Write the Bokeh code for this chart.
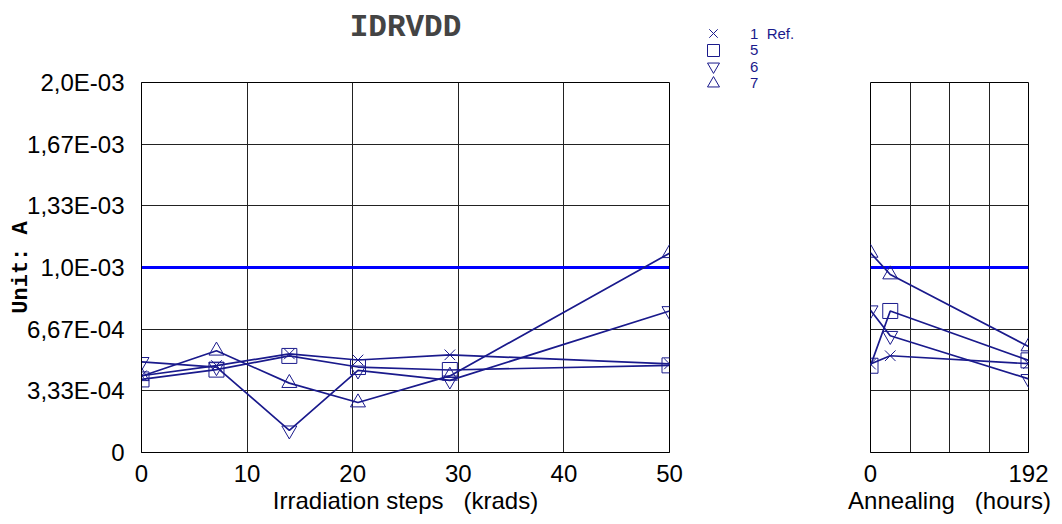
from bokeh.plotting import figure
from bokeh.layouts import row, column
from bokeh.models import FixedTicker, Legend, LegendItem, Spacer
from bokeh.embed import file_html
from bokeh.resources import INLINE

# ---------------- data ----------------
irr_x = [0, 7.1, 14, 20.5, 29.2, 50]          # krads
ann_x = [0, 24, 192]                           # hours

names = ["1  Ref.", "5", "6", "7"]
markers = ["x", "square", "inverted_triangle", "triangle"]

irr_s1 = [4.15e-4, 4.70e-4, 5.33e-4, 5.00e-4, 5.28e-4, 4.79e-4]
irr_s5 = [3.95e-4, 4.48e-4, 5.22e-4, 4.62e-4, 4.46e-4, 4.71e-4]
irr_s6 = [4.90e-4, 4.62e-4, 1.20e-4, 4.44e-4, 3.90e-4, 7.65e-4]
irr_s7 = [4.12e-4, 5.50e-4, 3.75e-4, 2.70e-4, 4.14e-4, 1.077e-3]

ann_s1 = [4.78e-4, 5.23e-4, 4.80e-4]
ann_s5 = [4.69e-4, 7.65e-4, 4.98e-4]
ann_s6 = [7.69e-4, 6.31e-4, 3.98e-4]
ann_s7 = [1.079e-3, 9.62e-4, 5.73e-4]

limit = 1.0e-3

y_ticks = [0, 3.333e-4, 6.667e-4, 1.0e-3, 1.333e-3, 1.667e-3, 2.0e-3]
y_tick_labels = ["0", "3,33E-04", "6,67E-04", "1,0E-03", "1,33E-03", "1,67E-03", "2,0E-03"]
irr_ticks = [0, 10, 20, 30, 40, 50]
ann_grid = [0, 48, 96, 144, 192]
ann_ticks = [0, 192]

irr_series = [irr_s1, irr_s5, irr_s6, irr_s7]
ann_series = [ann_s1, ann_s5, ann_s6, ann_s7]

# ---------------- style ----------------
NAVY = "#1a1a8c"
TICK_FONT = "Liberation Sans"
FS = "24px"
NB = "\u00a0"


def style(p):
    p.outline_line_color = "#000000"
    p.outline_line_width = 1
    for ax in (p.xaxis[0], p.yaxis[0]):
        ax.major_tick_line_color = None
        ax.minor_tick_line_color = None
        ax.axis_line_color = "#000000"
        ax.major_label_text_font = TICK_FONT
        ax.major_label_text_font_size = FS
        ax.major_label_text_color = "#000000"
        ax.axis_label_text_font = TICK_FONT
        ax.axis_label_text_font_size = FS
        ax.axis_label_text_font_style = "normal"
        ax.axis_label_text_color = "#000000"
    p.xaxis.major_label_standoff = 6
    p.yaxis.major_label_standoff = 11
    p.xaxis.axis_label_standoff = 2
    p.grid.grid_line_color = "#222222"
    p.grid.grid_line_width = 1
    p.background_fill_color = "white"
    p.border_fill_color = "white"


H = 516

# ---------------- left panel ----------------
p1 = figure(width=683, height=H, x_range=(0, 50), y_range=(0, 2.0e-3),
            output_backend="svg", toolbar_location=None,
            min_border_left=141, min_border_right=14,
            min_border_top=82, min_border_bottom=62,
            title="IDRVDD\n" + NB)
p1.title.align = "center"
p1.title.text_font = "Liberation Mono"
p1.title.text_font_style = "bold"
p1.title.text_font_size = "31px"
p1.title.standoff = 6
style(p1)
p1.xaxis.ticker = FixedTicker(ticks=irr_ticks)
p1.yaxis.ticker = FixedTicker(ticks=y_ticks)
p1.yaxis.major_label_overrides = {t: l for t, l in zip(y_ticks, y_tick_labels)}
p1.xaxis.axis_label = "Irradiation steps" + NB * 3 + "(krads)"
p1.yaxis.axis_label = "Unit: A"
p1.yaxis.axis_label_text_font = "Liberation Mono"
p1.yaxis.axis_label_text_font_style = "bold"
p1.yaxis.axis_label_text_font_size = "22px"
p1.yaxis.axis_label_standoff = -10

p1.line([irr_x[0], irr_x[-1]], [limit, limit], line_color="#0000ff", line_width=3)

for mk, ys in zip(markers, irr_series):
    p1.line(irr_x, ys, line_color=NAVY, line_width=1.7)
    p1.scatter(irr_x, ys, marker=mk, size=15, line_color=NAVY,
               fill_color=None, line_width=1)

# ---------------- legend holder (short figure at the top) ----------------
LW = 146
LH = 100
pl = figure(width=LW, height=LH, x_range=(0, 1), y_range=(0, 1),
            output_backend="svg", toolbar_location=None, title=None,
            min_border_left=0, min_border_right=0,
            min_border_top=0, min_border_bottom=0)
pl.axis.visible = False
pl.grid.visible = False
pl.outline_line_color = None
pl.background_fill_alpha = 0
pl.border_fill_alpha = 0
ROW_PITCH = 16.6
FIRST_CENTER = 33
GLYPH = 30
for i, (name, mk) in enumerate(zip(names, markers)):
    # legend swatch only: one point kept outside the visible range
    r = pl.scatter([-5], [-5], marker=mk, size=12, line_color=NAVY,
                   fill_color=None, line_width=1)
    center = FIRST_CENTER + i * ROW_PITCH
    bottom_from_bottom = LH - (center + GLYPH / 2)
    lg = Legend(items=[LegendItem(label=name, renderers=[r])],
                location=(15, bottom_from_bottom), orientation="vertical",
                border_line_color=None, background_fill_alpha=0,
                label_text_font=TICK_FONT, label_text_font_size="15px",
                label_text_color=NAVY, glyph_width=GLYPH, glyph_height=GLYPH,
                label_height=16, spacing=0, padding=0, margin=0,
                label_standoff=22)
    pl.add_layout(lg, "center")
legend_col = column(pl, Spacer(width=LW, height=H - LH), spacing=0)

# ---------------- right panel ----------------
p2 = figure(width=225, height=H, x_range=(0, 192), y_range=(0, 2.0e-3),
            output_backend="svg", toolbar_location=None,
            min_border_left=41, min_border_right=26,
            min_border_top=82, min_border_bottom=62)
style(p2)
p2.xaxis.ticker = FixedTicker(ticks=ann_ticks)
p2.xgrid.ticker = FixedTicker(ticks=ann_grid)
p2.yaxis.visible = False
p2.ygrid.ticker = FixedTicker(ticks=y_ticks)
p2.xaxis.axis_label = "Annealing" + NB * 3 + "(hours)"

p2.line([ann_x[0], ann_x[-1]], [limit, limit], line_color="#0000ff", line_width=3)
for mk, ys in zip(markers, ann_series):
    p2.line(ann_x, ys, line_color=NAVY, line_width=1.7)
    p2.scatter(ann_x, ys, marker=mk, size=15, line_color=NAVY,
               fill_color=None, line_width=1)

layout = row(p1, legend_col, p2, spacing=0)
open("out.html", "w").write(file_html(layout, INLINE))
